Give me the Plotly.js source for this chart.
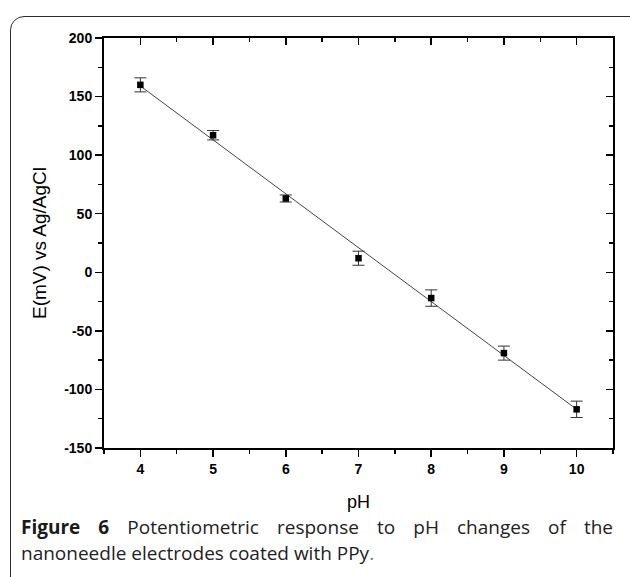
<!DOCTYPE html>
<html>
<head>
<meta charset="utf-8">
<script src="https://cdn.plot.ly/plotly-3.0.1.min.js"></script>
<style>
  html, body { margin: 0; padding: 0; width: 630px; height: 577px; overflow: hidden; background: #fff; }
  #frame { position: absolute; left: 10px; top: 16px; width: 640px; height: 620px;
           border: 1.5px solid #2a2a2a; border-radius: 14px; box-sizing: border-box; }
  #chart { position: absolute; left: 0; top: 0; width: 630px; height: 577px; }
  .cap { position: absolute; left: 21px; font-family: "Open Sans", sans-serif; font-size: 19px; font-weight: 500; color: #222; white-space: nowrap; line-height: 26px; }
  #cap1 { top: 514px; width: 592px; text-align: justify; text-align-last: justify; white-space: normal; }
  #cap2 { top: 540px; }
  .cap b { color: #1a1a1a; font-weight: 700; }
</style>
</head>
<body>
<div id="frame"></div>
<div id="chart"></div>
<div class="cap" id="cap1"><b>Figure 6</b> Potentiometric response to pH changes of the</div>
<div class="cap" id="cap2">nanoneedle electrodes coated with PPy<span style="color:#777">.</span></div>
<script>
// Data
const pH = [4, 5, 6, 7, 8, 9, 10];
const potential = [160, 117, 63, 12, -22, -69, -117];
const errorBar = [6, 4, 3, 6, 7, 6, 7];
// Linear fit line endpoints
const fitX = [4, 10];
const fitY = [159, -117];
const xTicks = [4, 5, 6, 7, 8, 9, 10];
const yTicks = [-150, -100, -50, 0, 50, 100, 150, 200];
const yTickText = ["-150", "-100", "-50", "0", "50", "100", "150", "200"];

const tickFont = { family: "Liberation Sans, Arial, sans-serif", size: 14, color: "#000", weight: "bold" };

const traces = [
  {
    x: fitX, y: fitY, mode: "lines", type: "scatter",
    line: { color: "#444", width: 1 }, hoverinfo: "skip"
  },
  {
    x: pH, y: potential, mode: "markers", type: "scatter",
    marker: { symbol: "square", size: 6.5, color: "#000" },
    error_y: { type: "data", array: errorBar, visible: true, color: "#333", thickness: 1, width: 6 }
  },
  {
    x: pH, y: potential, xaxis: "x2", yaxis: "y2", mode: "markers", type: "scatter",
    marker: { opacity: 0 }, hoverinfo: "skip"
  }
];

const axisCommon = { showgrid: false, zeroline: false, showline: true, linecolor: "#000", linewidth: 2, tickcolor: "#000", tickwidth: 1.5 };

const layout = {
  width: 630, height: 577,
  margin: { l: 104, r: 17, t: 38, b: 129 },
  paper_bgcolor: "rgba(0,0,0,0)", plot_bgcolor: "rgba(0,0,0,0)",
  showlegend: false,
  xaxis: Object.assign({}, axisCommon, {
    range: [3.5, 10.5], tickvals: xTicks, ticks: "outside", ticklen: 7,
    minor: { dtick: 0.5, tick0: 3.5, ticks: "outside", ticklen: 4, tickcolor: "#000", tickwidth: 1.5 },
    tickfont: tickFont,
    title: { text: "pH", font: { family: "Liberation Sans, Arial, sans-serif", size: 18, color: "#000" }, standoff: 20 }
  }),
  yaxis: Object.assign({}, axisCommon, {
    range: [-150, 200], tickvals: yTicks, ticktext: yTickText, ticks: "outside", ticklen: 7,
    minor: { dtick: 25, tick0: -150, ticks: "outside", ticklen: 4, tickcolor: "#000", tickwidth: 1.5 },
    tickfont: tickFont,
    title: { text: "E(mV) vs Ag/AgCl", font: { family: "Liberation Sans, Arial, sans-serif", size: 19, color: "#000" }, standoff: 13 }
  }),
  xaxis2: Object.assign({}, axisCommon, {
    overlaying: "x", side: "top", anchor: "y2", range: [3.5, 10.5], tickvals: xTicks,
    ticks: "inside", ticklen: 7, showticklabels: false,
    minor: { dtick: 0.5, tick0: 3.5, ticks: "inside", ticklen: 4, tickcolor: "#000", tickwidth: 1.5 }
  }),
  yaxis2: Object.assign({}, axisCommon, {
    overlaying: "y", side: "right", anchor: "x2", range: [-150, 200], tickvals: yTicks,
    ticks: "inside", ticklen: 7, showticklabels: false,
    minor: { dtick: 25, tick0: -150, ticks: "inside", ticklen: 4, tickcolor: "#000", tickwidth: 1.5 }
  })
};

Plotly.newPlot("chart", traces, layout, { displayModeBar: false, staticPlot: true });
</script>
</body>
</html>
